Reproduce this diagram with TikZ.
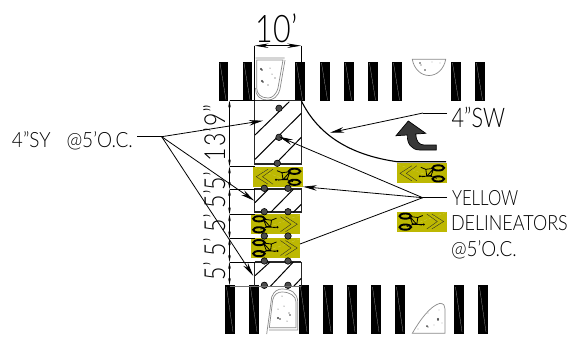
\documentclass[tikz,border=0pt]{standalone}
\usepackage{fontspec}
\usetikzlibrary{arrows.meta}
\newfontfamily\cad[FakeStretch=0.8]{Lato Light}
\definecolor{delinyellow}{HTML}{BDB802}
\definecolor{islandgrey}{HTML}{8A8A8A}
\tikzset{
  every node/.style={inner sep=0pt,outer sep=0pt,font=\cad},
  crossbar/.style={fill=black},
  barline/.style={draw=black!35,line width=.25pt},
  post/.style={circle,fill=black!70,draw=black,line width=.6pt,minimum size=6.5pt},
  hatchline/.style={line width=1pt,black},
  boxline/.style={line width=1.1pt,black!85},
  thinline/.style={line width=.7pt,black},
  leader/.style={line width=.8pt,black},
  leadarrow/.style={leader,-{Stealth[length=14pt,width=5.5pt]}},
  dimarrow/.style={line width=.6pt,black,{Stealth[length=7pt,width=2.6pt]}-{Stealth[length=7pt,width=2.6pt]}},
  island/.style={draw=islandgrey,line width=.7pt},
  speck/.style={fill=black!75},
  labeltext/.style={font=\cad\fontsize{21}{21}\selectfont,anchor=base west},
  dimtext/.style={font=\cad\fontsize{29}{29}\selectfont,rotate=90},
  delin/.pic={
    \fill[delinyellow] (-24.7,-10) rectangle (24.7,10);
    \draw[delinyellow!70!white,line width=.25pt,dash pattern=on 3pt off 2pt] (-24,-9) -- (24,9);
    \draw[black!85,line width=.35pt] (-10,-7.5) -- (-21.8,0) -- (-10,7.5) (-5,-7.5) -- (-15.5,0) -- (-5,7.5);
    \draw[black,line width=1.9pt] (16.5,-5.4) ellipse (5.8pt and 2.6pt) (16.5,5.6) ellipse (5.8pt and 2.6pt);
    \draw[black,line width=.8pt] (-2,3) -- (9,3) -- (12,-5) -- (4,-4) -- (5,3) (4,-4) -- (-1,-6) (9,3) -- (15,5) (5,3) -- (12,-5) (0,3.5) -- (10,2);
    \fill[black] (-2,3) circle (1.1pt);
  }
}
\begin{document}
\begin{tikzpicture}[x=1pt,y=-1pt]
\useasboundingbox (0,0) rectangle (573,338);
\fill[white] (0,0) rectangle (573,338);
% top bars
\foreach \bx in {218.5,242.5,295,320,344,368,392,451,475}{
  \fill[crossbar] (\bx,62) rectangle +(9.5,39);
  \draw[barline] (\bx+1.5,63) -- (\bx+7.5,100);
}
% bottom bars
\foreach \bx in {225,249,299,323,347,371,395,454,478}{
  \fill[crossbar] (\bx,285) rectangle +(9.5,49);
  \draw[barline] (\bx+1.5,287) -- (\bx+8,332);
}
% islands
\draw[island,fill=white] (256.7,60) -- (283,60) -- (278,88) .. controls (276,95) and (272,98) .. (268,98) .. controls (261,98) and (256.7,94) .. (256.7,88) -- cycle;
\draw[island] (255.5,58) -- (284.5,58) (285,60) -- (280,89) .. controls (278,97) and (273,100) .. (268,100) .. controls (259,100) and (255.5,95) .. (255.5,88);
\draw[island,fill=white] (412.3,59.3) .. controls (414,69) and (421,75.5) .. (429,75.5) .. controls (437,75.5) and (444,69) .. (445.7,59.3) -- cycle;
\draw[island,fill=white] (269.3,327.7) -- (272.7,300) .. controls (274,294) and (278,292) .. (282,292) .. controls (290,292) and (296,296) .. (296,302) -- (296,327.7) -- cycle;
\draw[island] (266.7,334) -- (271.7,297) .. controls (274,291) and (278,289) .. (282,289) .. controls (291,289) and (297.7,293) .. (297.7,302) -- (297.7,330) -- (269,330);
\draw[island,fill=white] (412.3,333.3) .. controls (420,320) and (430,306) .. (440,303.3) .. controls (444,303.5) and (445,306) .. (445,309) -- (445,333.3) -- cycle;
\foreach \sx/\sy/\sr in {261/69/1.1,262/70/.8,262/81/1.1,263/82/.8,270/68/.5,275/78/.6,268/85/.6,272/74/.5,
  282/296/.5,278/309/.5,289/313/.7,290/315/.9,278/318/1.2,280/319/.9,287/321/.5,284/306/.5,
  420/63/.8,421/65/.6,425/70/.8,432/62/.4,440/63/.4,
  427/326/1,428/327/.7,438/319/1.1,438/320/.8,418/329/.4,434/325/.4,442/323/.4,439/310/.4,428/313/.4}{
  \fill[speck] (\sx,\sy) circle (\sr pt);
}
% yellow patches
\pic at (278,176.7) {delin};
\pic[xscale=-1] at (275.5,224.2) {delin};
\pic[xscale=-1] at (275.5,248) {delin};
\pic at (421.8,173.3) {delin};
\pic[xscale=-1] at (421.8,221.5) {delin};
% boxes
\draw[boxline] (254.5,100.5) rectangle (301.2,164);
\draw[boxline] (254.5,189) rectangle (301.2,212);
\draw[boxline] (254.5,262) -- (301.2,262) (254.5,262) -- (254.5,287) (301.2,262) -- (301.2,287);
\draw[hatchline] (255,135) -- (289.3,101.7) (255,159.3) -- (301.3,113.3) (276,163.3) -- (301.3,137.3);
\draw[hatchline] (255,202.7) -- (268.3,189.3) (270.7,212.3) -- (293.3,189.3) (293.3,212.3) -- (301.3,204.3);
\draw[hatchline] (255,275.7) -- (270,262) (270,286.7) -- (293.3,262) (293.3,286.7) -- (301.3,278.3);
\foreach \px/\py in {279/108.3,279/137.3,277.3/163.3,264.3/188.3,288/188.3,264.3/211.7,288/211.7,264.3/236,288/236,264.3/261,288/261,264.3/285.3,288/285.3}{
  \node[post] at (\px,\py) {};
}
% dimensions
\coordinate (dimtopL) at (254.5,45.7);
\coordinate (dimtopR) at (301.2,45.7);
\coordinate (boxTL) at (254.5,100.5);
\draw[thinline] (dimtopL) -- (boxTL) (dimtopR) -- (301.2,62);
\draw[line width=.7pt,{Stealth[length=14pt,width=4.5pt]}-{Stealth[length=14pt,width=4.5pt]}] (dimtopL) -- (dimtopR);
\node[font=\cad\fontsize{38}{38}\selectfont,anchor=base] (ten) at (276.5,42) {10’};
\foreach \ya/\yb in {100.5/166.5,166.5/189,189/214.3,214.3/238.3,238.3/262,262/285}{
  \coordinate (da) at (229.5,\ya);
  \coordinate (db) at (229.5,\yb);
  \draw[dimarrow] (da) -- (db);
}
\foreach \ye in {100.5,166.5,189,214.3,238.3,262}{
  \draw[line width=.8pt] (229.5,\ye) -- (254.5,\ye);
}
\draw[line width=.7pt,black!55] (229.5,286.7) -- (301,286.7);
\node[dimtext,anchor=base] (dimA) at (225,133) {1\hspace{1.5pt}3\hspace{1pt}’\hspace{1pt}9\hspace{1pt}”};
\node[dimtext,anchor=base] (dimB) at (225,181) {5’};
\node[dimtext,anchor=base] (dimC) at (225,199) {5’};
\node[dimtext,anchor=base] (dimD) at (225,223) {5’};
\node[dimtext,anchor=base] (dimE) at (225,247) {5’};
\node[dimtext,anchor=base] (dimF) at (225,271) {5’};
% right curve
\coordinate (curveS) at (301.2,100.5);
\coordinate (curveM) at (397,161.7);
\coordinate (curveE) at (446,161.7);
\draw[line width=1.1pt] (curveS) .. controls (318,135) and (350,155) .. (curveM) -- (curveE);
% turn arrow
\draw[fill=black!78,line width=.7pt,draw=black] (408.3,121) -- (425.7,133.3) -- (415.7,134) .. controls (416,141) and (419,145) .. (424,145) -- (436.3,145) -- (436.3,150) -- (420,150) .. controls (411,150) and (407,143) .. (407.3,135) -- (396,135.7) -- cycle;
% labels
\node[labeltext,transform shape,xscale=1.13] (sy) at (12,147) {4”SY\hspace{14pt}@5’O.C.};
\node[labeltext,font=\cad\fontsize{27}{27}\selectfont] (sw) at (451.7,127) {4”SW};
\node[labeltext] (yel) at (452,205.5) {YELLOW};
\node[labeltext,transform shape,xscale=1.07] (del) at (451,230) {DELINEATORS};
\node[labeltext,transform shape,xscale=1.12] (oc) at (451,256.5) {@5’O.C.};
% leaders
\coordinate (syS) at (137,136.7);
\coordinate (syH) at (161.7,136.7);
\coordinate (swS) at (447,113);
\coordinate (swH) at (423,113);
\coordinate (ylS) at (447,197.7);
\coordinate (ylH) at (422.7,197.7);
\draw[leader] (syS) -- (syH);
\draw[leadarrow] (syH) -- (263,120.7);
\draw[leadarrow] (syH) -- (254.3,200.7);
\draw[leadarrow] (syH) -- (253.3,276);
\draw[leader] (swS) -- (swH);
\draw[leadarrow] (swH) -- (330,132.7);
\draw[leader] (ylS) -- (ylH);
\draw[leadarrow] (ylH) -- (279,136.7);
\draw[leadarrow] (ylH) -- (303,186.7);
\draw[leader] (ylH) -- (300,244);
\end{tikzpicture}
\end{document}
